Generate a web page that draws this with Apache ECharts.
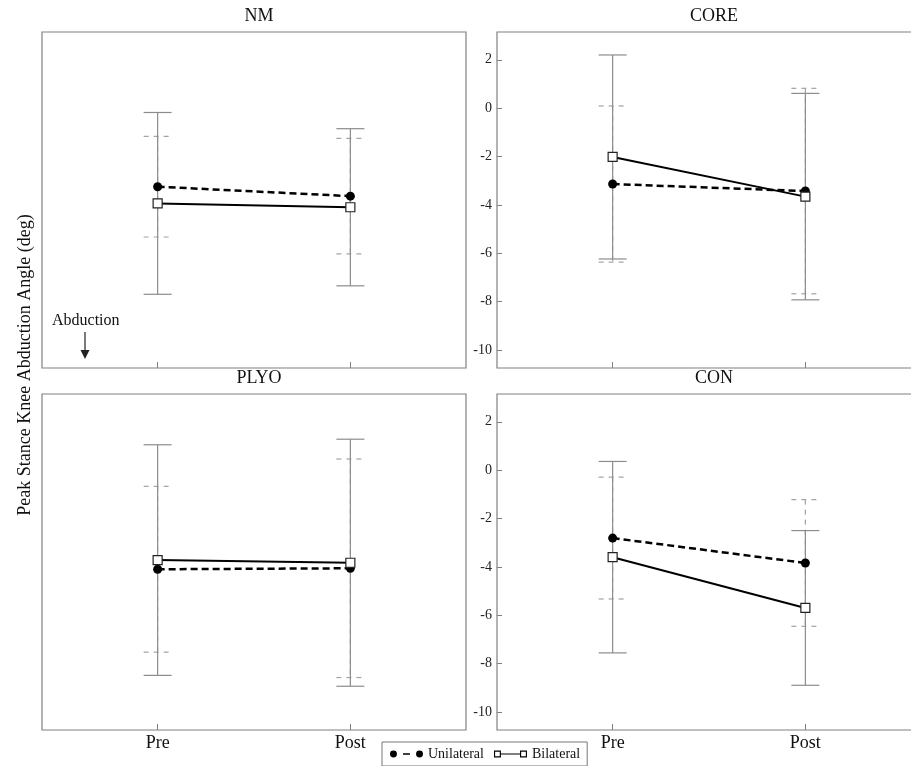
<!DOCTYPE html>
<html>
<head>
<meta charset="utf-8">
<script src="https://cdn.jsdelivr.net/npm/echarts@6/dist/echarts.min.js"></script>
<style>
  html, body { margin: 0; padding: 0; background: #fff; }
  #chart { width: 911px; height: 766px; }
</style>
</head>
<body>
<div id="chart"></div>
<script>
// values (deg), [Pre, Post] per panel
const panels = ['NM', 'CORE', 'PLYO', 'CON'];
const phases = ['Pre', 'Post'];
const phaseX = [1, 2];
const uniMean = [[-3.25, -3.64], [-3.14, -3.43], [-4.10, -4.06], [-2.81, -3.84]];
const uniSd   = [[2.08, 2.39], [3.23, 4.25], [3.43, 4.52], [2.52, 2.62]];
const bilMean = [[-3.94, -4.10], [-2.02, -3.66], [-3.72, -3.83], [-3.60, -5.70]];
const bilSd   = [[3.76, 3.25], [4.22, 4.27], [4.77, 5.11], [3.96, 3.20]];
const yTicks = [-10, -8, -6, -4, -2, 0, 2];

const serif = 'Liberation Serif';
const frame = '#808080';

var chartDom = document.getElementById('chart');
var myChart = echarts.init(chartDom);

// panel boxes (right column runs off the page, so no right border shows)
const boxes = [
  { left: 42, top: 32, width: 424, xmax: 2.6 },
  { left: 497, top: 32, width: 440, xmax: 2.683 },
  { left: 42, top: 394, width: 424, xmax: 2.6 },
  { left: 497, top: 394, width: 440, xmax: 2.683 }
];

function errBars(dashed) {
  return function (params, api) {
    const x = api.value(0);
    const top = api.coord([x, api.value(2)]);
    const bot = api.coord([x, api.value(1)]);
    const w = 14;
    const style = {
      stroke: dashed ? '#a3a3a3' : '#8c8c8c',
      lineWidth: 1.2,
      lineDash: dashed ? [5, 5] : null,
      fill: null
    };
    return {
      type: 'group',
      children: [
        { type: 'line', shape: { x1: top[0], y1: top[1], x2: bot[0], y2: bot[1] }, style: style },
        { type: 'line', shape: { x1: top[0] - w, y1: top[1], x2: top[0] + w, y2: top[1] }, style: style },
        { type: 'line', shape: { x1: bot[0] - w, y1: bot[1], x2: bot[0] + w, y2: bot[1] }, style: style }
      ]
    };
  };
}

var grid = [], xAxis = [], yAxis = [], title = [], series = [];

panels.forEach(function (name, i) {
  var b = boxes[i];
  grid.push({
    left: b.left, top: b.top, width: b.width, height: 336,
    outerBoundsMode: 'none', containLabel: false,
    show: true, borderColor: frame, borderWidth: 1.2, backgroundColor: 'transparent'
  });
  title.push({
    text: name,
    left: b.left + 212,
    top: b.top - 30,
    textAlign: 'center',
    textStyle: { fontFamily: serif, fontWeight: 'normal', fontSize: 18, color: '#111' }
  });
  xAxis.push({
    type: 'value', gridIndex: i, min: 0.4, max: b.xmax,
    axisLine: { show: false, onZero: false },
    splitLine: { show: false },
    axisTick: { show: true, inside: true, length: 6, customValues: phaseX, lineStyle: { color: frame } },
    axisLabel: {
      show: i >= 2, customValues: phaseX, margin: 4,
      formatter: function (v) { return phases[Math.round(v) - 1]; },
      fontFamily: serif, fontSize: 18, color: '#111'
    }
  });
  yAxis.push({
    type: 'value', gridIndex: i, min: -10.75, max: 3.15,
    axisLine: { show: false, onZero: false },
    splitLine: { show: false },
    axisTick: { show: i % 2 === 1, inside: true, length: 5, customValues: yTicks, lineStyle: { color: frame } },
    axisLabel: {
      show: i % 2 === 1, customValues: yTicks, margin: 5,
      fontFamily: serif, fontSize: 14, color: '#222'
    }
  });

  series.push({
    type: 'custom', name: 'uniErr', xAxisIndex: i, yAxisIndex: i, z: 1,
    renderItem: errBars(true),
    encode: { x: 0, y: [1, 2] },
    data: phaseX.map(function (x, j) { return [x, uniMean[i][j] - uniSd[i][j], uniMean[i][j] + uniSd[i][j]]; }),
    silent: true
  });
  series.push({
    type: 'custom', name: 'bilErr', xAxisIndex: i, yAxisIndex: i, z: 1,
    renderItem: errBars(false),
    encode: { x: 0, y: [1, 2] },
    data: phaseX.map(function (x, j) { return [x, bilMean[i][j] - bilSd[i][j], bilMean[i][j] + bilSd[i][j]]; }),
    silent: true
  });
  series.push({
    type: 'line', name: 'Unilateral', xAxisIndex: i, yAxisIndex: i, z: 3,
    symbol: 'circle', symbolSize: 9,
    itemStyle: { color: '#000' },
    lineStyle: { color: '#000', width: 2.5, type: [7, 4] },
    data: phaseX.map(function (x, j) { return [x, uniMean[i][j]]; })
  });
  series.push({
    type: 'line', name: 'Bilateral', xAxisIndex: i, yAxisIndex: i, z: 4,
    symbol: 'rect', symbolSize: 9,
    itemStyle: { color: '#fff', borderColor: '#222', borderWidth: 1.2 },
    lineStyle: { color: '#000', width: 2 },
    data: phaseX.map(function (x, j) { return [x, bilMean[i][j]]; })
  });
});

// legend glyphs: dot - dot, and open square -- open square
const uniIcon = 'path://M1,5a4,4 0 1,0 8,0a4,4 0 1,0 -8,0Z M16,4.2L24,4.2L24,5.8L16,5.8Z M31,5a4,4 0 1,0 8,0a4,4 0 1,0 -8,0Z';
const bilIcon = 'path://M1,1L9,1L9,9L1,9Z M2.3,2.3L2.3,7.7L7.7,7.7L7.7,2.3Z M9,4.5L31,4.5L31,5.5L9,5.5Z M31,1L39,1L39,9L31,9Z M32.3,2.3L32.3,7.7L37.7,7.7L37.7,2.3Z';

var option = {
  animation: false,
  backgroundColor: '#fff',
  title: title,
  grid: grid,
  xAxis: xAxis,
  yAxis: yAxis,
  legend: {
    data: [
      { name: 'Unilateral', icon: uniIcon, itemStyle: { color: '#000', borderWidth: 0 } },
      { name: 'Bilateral', icon: bilIcon, itemStyle: { color: '#000', borderWidth: 0 } }
    ],
    left: 382, top: 742,
    borderColor: '#777', borderWidth: 1, padding: [5, 7, 5, 8],
    itemWidth: 33, itemHeight: 9, itemGap: 10,
    textStyle: { fontFamily: serif, fontSize: 14, color: '#111' }
  },
  graphic: [
    {
      type: 'text', x: 25, y: 365, rotation: Math.PI / 2,
      style: {
        text: 'Peak Stance Knee Abduction Angle (deg)',
        fontFamily: serif, fontSize: 18, fill: '#111',
        textAlign: 'center', textVerticalAlign: 'middle'
      }
    },
    {
      type: 'text', x: 52, y: 313,
      style: { text: 'Abduction', fontFamily: serif, fontSize: 16, fill: '#111' }
    },
    {
      type: 'line', shape: { x1: 85, y1: 332, x2: 85, y2: 352 },
      style: { stroke: '#222', lineWidth: 1.2 }
    },
    {
      type: 'polygon', shape: { points: [[80.5, 350], [89.5, 350], [85, 359]] },
      style: { fill: '#222' }
    }
  ],
  series: series
};

option && myChart.setOption(option);
</script>
</body>
</html>
